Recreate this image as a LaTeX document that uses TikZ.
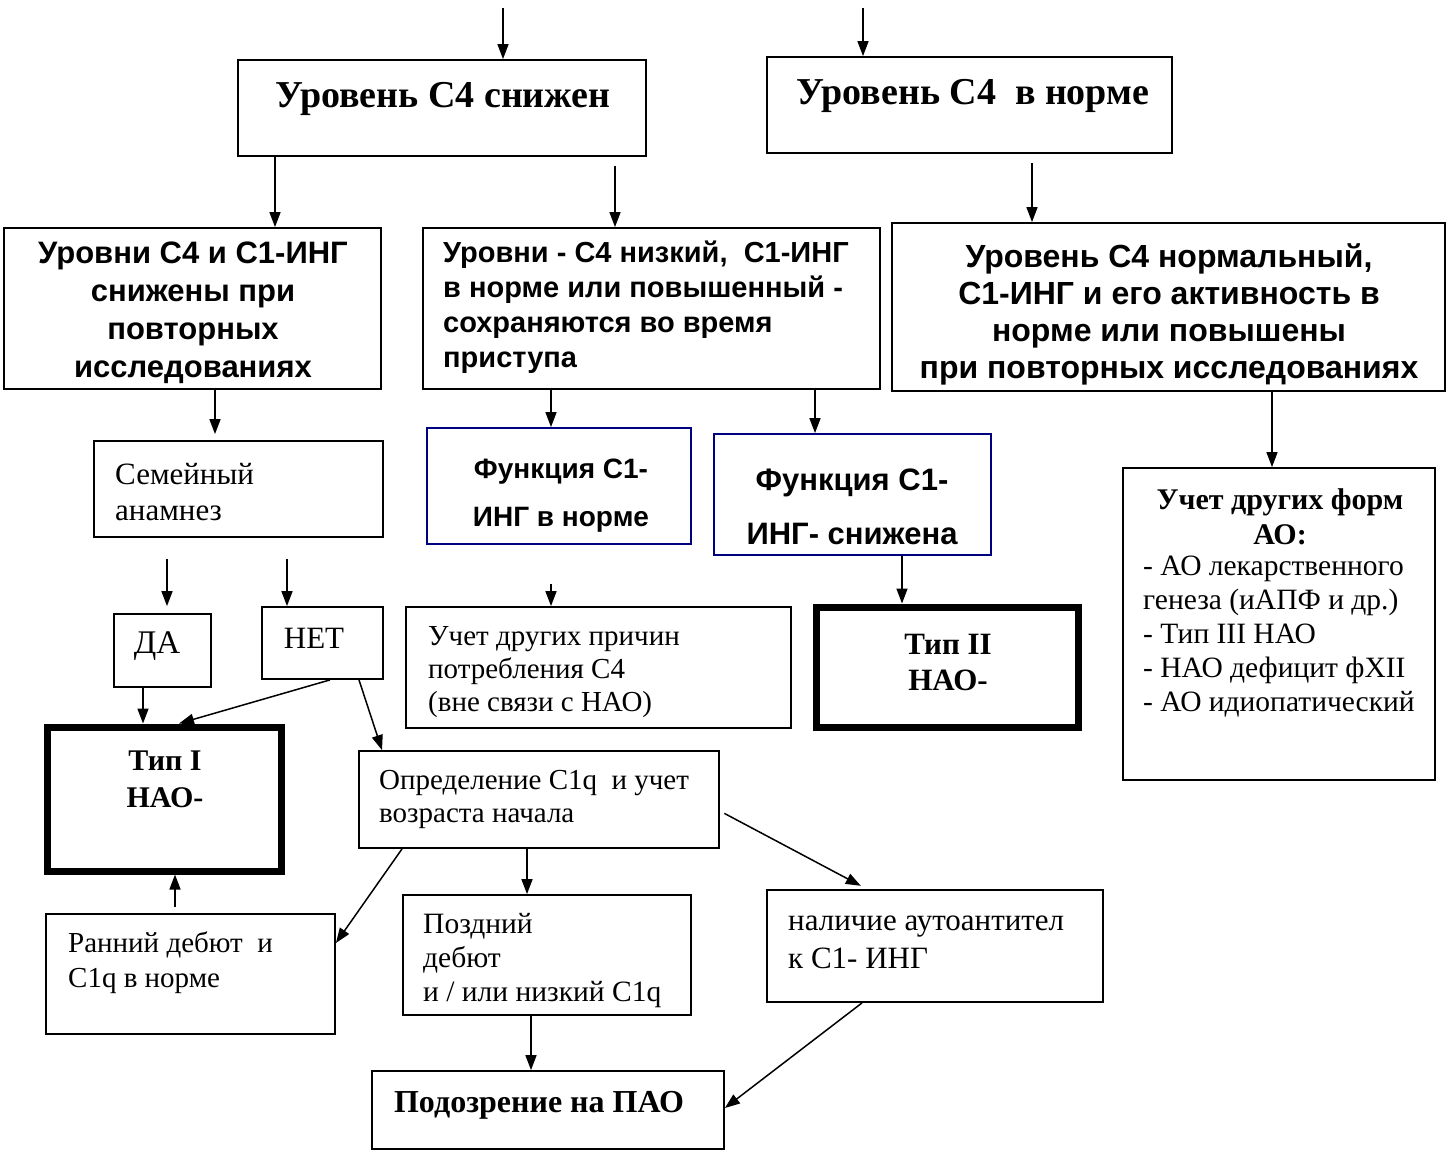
\documentclass[tikz,border=0pt]{standalone}
\usepackage{fontspec}
\setmainfont{Liberation Serif}
\setsansfont{Liberation Sans}
\usetikzlibrary{arrows.meta}
\definecolor{navyb}{RGB}{0,0,128}
\tikzset{
  box/.style={draw, line width=1.8pt, inner sep=0pt, rectangle},
  bluebox/.style={box, draw=navyb},
  heavybox/.style={draw, line width=7pt, inner sep=0pt, rectangle},
  sz/.style 2 args={minimum width=#1, minimum height=#2},
  arr/.style={line width=1.5pt, -{Triangle[length=15pt,width=11pt]}},
  sr/.style 2 args={inner sep=0pt, font=\fontsize{#1}{#2}\selectfont},
  sb/.style 2 args={inner sep=0pt, font=\fontsize{#1}{#2}\selectfont\bfseries},
  ssb/.style 2 args={inner sep=0pt, font=\fontsize{#1}{#2}\selectfont\sffamily\bfseries},
}
\begin{document}
\begin{tikzpicture}[x=1pt,y=-1pt]
\useasboundingbox[fill=white] (0,0) rectangle (1447,1157);
% boxes
\node[box, sz={408pt}{96pt}] (A) at (442,108) {};
\node[box, sz={405pt}{96pt}] (B) at (969.5,105) {};
\node[box, sz={377pt}{161pt}] (C) at (192.5,308.5) {};
\node[box, sz={457pt}{161pt}] (D) at (651.5,308.5) {};
\node[box, sz={553pt}{168pt}] (E) at (1168.5,307) {};
\node[box, sz={289pt}{96pt}] (F) at (238.5,489) {};
\node[bluebox, sz={264pt}{116pt}] (G) at (559,486) {};
\node[bluebox, sz={277pt}{121pt}] (H) at (852.5,494.5) {};
\node[box, sz={312pt}{312pt}] (K) at (1279,624) {};
\node[box, sz={97pt}{73pt}] (DA) at (162.5,650.5) {};
\node[box, sz={121pt}{72pt}] (NET) at (322.5,643) {};
\node[box, sz={385pt}{121pt}] (I) at (598.5,667.5) {};
\node[heavybox, sz={262pt}{120pt}] (T2) at (947,667) {};
\node[heavybox, sz={234pt}{144pt}] (T1) at (164,799) {};
\node[box, sz={360pt}{97pt}] (O) at (539,799.5) {};
\node[box, sz={289pt}{120pt}] (R) at (190.5,974) {};
\node[box, sz={288pt}{120pt}] (L) at (547,955) {};
\node[box, sz={336pt}{112pt}] (N) at (935,946) {};
\node[box, sz={352pt}{78pt}] (P) at (548,1110) {};
% texts
\node[sb={38}{46}] (At) at (443,99) {Уровень С4 снижен};
\node[sb={38}{46}] (Bt) at (973,96) {Уровень С4\ \ в норме};
\node[ssb={31}{38}, align=center] (Ct) at (193,313) {Уровни С4 и С1-ИНГ\\снижены при\\повторных\\исследованиях};
\node[ssb={29}{35}, align=left, anchor=west] (Dt) at (443,307) {Уровни - С4 низкий,\ \ С1-ИНГ\\в норме или повышенный -\\сохраняются во время\\приступа};
\node[ssb={32}{37}, align=center] (Et) at (1169,314) {Уровень С4 нормальный,\\С1-ИНГ и его активность в\\норме или повышены\\при повторных исследованиях};
\node[sr={31}{36}, align=left, anchor=west] (Ft) at (115,492) {Семейный\\анамнез};
\node[ssb={28}{48}, align=center] (Gt) at (561,496) {Функция С1-\\ИНГ в норме};
\node[ssb={31}{54}, align=center] (Ht) at (852,507) {Функция С1-\\ИНГ- снижена};
\node[sb={30}{35}, align=center] (Kt) at (1280,517) {Учет других форм\\АО:};
\node[sr={29.5}{34}, align=left, anchor=west] (Kl) at (1143,637) {- АО лекарственного\\генеза (иАПФ и др.)\\- Тип III НАО\\- НАО дефицит фXII\\- АО идиопатический};
\node[sr={33}{36}] (DAt) at (157,646) {ДА};
\node[sr={31}{36}] (NETt) at (314,638) {НЕТ};
\node[sr={29}{33}, align=left, anchor=west] (It) at (428,672) {Учет других причин\\потребления С4\\(вне связи с НАО)};
\node[sb={30}{37}, align=center] (T1t) at (165,779) {Тип I\\НАО-};
\node[sb={31}{36}, align=center] (T2t) at (948,662) {Тип II\\НАО-};
\node[sr={29}{33}, align=left, anchor=west] (Ot) at (379,799) {Определение С1q\ \ и учет\\возраста начала};
\node[sr={29}{35}, align=left, anchor=west] (Rt) at (68,963) {Ранний дебют\ \ и\\С1q в норме};
\node[sr={29.5}{34}, align=left, anchor=west] (Lt) at (423,961) {Поздний\\дебют\\и / или низкий С1q};
\node[sr={31}{38}, align=left, anchor=west] (Nt) at (788,942) {наличие аутоантител\\к С1- ИНГ};
\node[sb={32}{35}] (Pt) at (539,1105) {Подозрение на ПАО};
% connectors
\coordinate (s1) at (503,8);
\coordinate (s2) at (863,8);
\draw[arr] (s1) -- (A.north -| s1);
\draw[arr] (s2) -- (B.north -| s2);
\draw[arr] (A.south -| 275,0) -- (C.north -| 275,0);
\draw[arr, shorten <=9pt] (A.south -| 615,0) -- (D.north -| 615,0);
\draw[arr, shorten <=9pt] (B.south -| 1032,0) -- (E.north -| 1032,0);
\draw[arr, shorten >=6pt] (C.south -| 215,0) -- (F.north -| 215,0);
\draw[arr] (D.south -| 551,0) -- (G.north -| 551,0);
\draw[arr] (D.south -| 815,0) -- (H.north -| 815,0);
\draw[arr] (E.south -| 1272,0) -- (K.north -| 1272,0);
\draw[arr, shorten <=21pt, shorten >=7pt] (F.south -| 167,0) -- (DA.north -| 167,0);
\draw[arr, shorten <=21pt] (F.south -| 287,0) -- (NET.north -| 287,0);
\draw[arr, shorten <=39pt] (G.south -| 551,0) -- (I.north -| 551,0);
\draw[arr] (H.south -| 902,0) -- (T2.north -| 902,0);
\draw[arr] (DA.south -| 143,0) -- (T1.north -| 143,0);
\draw[arr] (NET.south -| 330,0) -- (T1.north -| 179,0);
\draw[arr] (NET.south -| 359,0) -- (O.north -| 382,0);
\draw[arr] (O.south -| 402,0) -- (R.east |- 0,943);
\draw[arr, shorten <=6pt] (R.north -| 175,0) -- (T1.south -| 175,0);
\draw[arr] (O.south -| 527,0) -- (L.north -| 527,0);
\draw[arr] (L.south -| 531,0) -- (P.north -| 531,0);
\draw[arr, shorten <=5pt, shorten >=7pt] (O.east |- 0,811) -- (N.north -| 867,0);
\draw[arr] (N.south -| 862,0) -- (P.east |- 0,1108);
\end{tikzpicture}
\end{document}
